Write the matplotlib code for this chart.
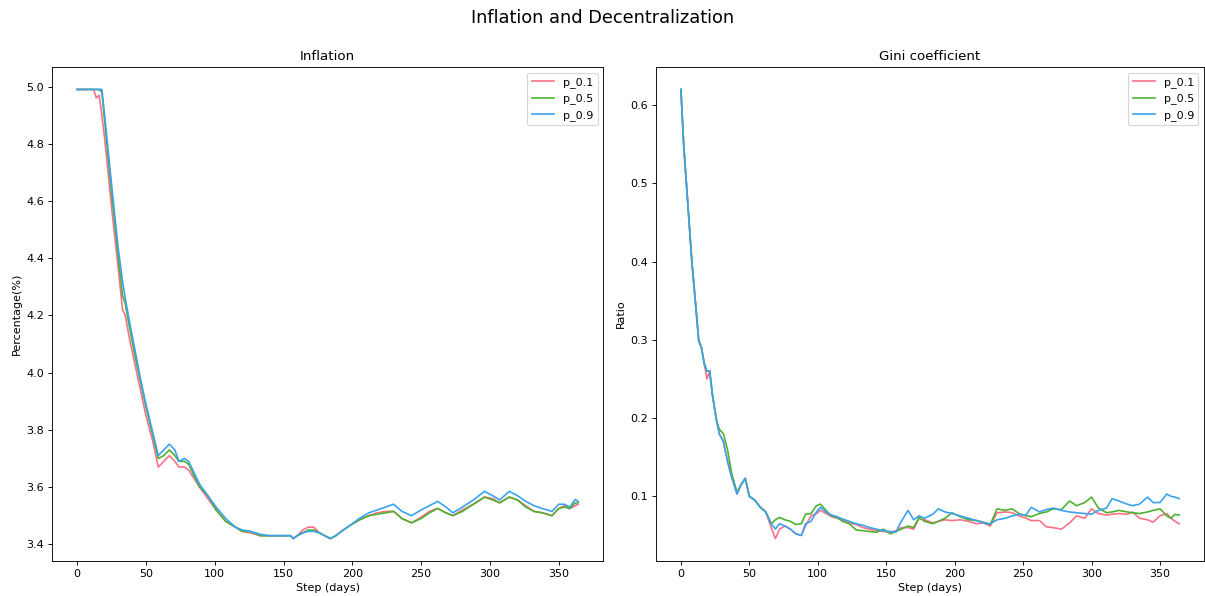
import matplotlib
matplotlib.use("Agg")
import matplotlib.pyplot as plt
import seaborn as sns

# --- data ---
labels = ["p_0.1", "p_0.5", "p_0.9"]

days_inf = [0, 12, 14, 16, 18, 20, 25, 30, 33, 35, 38, 42, 46, 50, 55, 59, 63, 67,
            71, 74, 78, 81, 85, 89, 95, 101, 108, 115, 120, 126, 133, 140, 148, 155,
            157, 160, 164, 168, 172, 176, 180, 184, 188, 192, 198, 205, 212, 218, 224,
            230, 236, 243, 250, 256, 262, 268, 273, 280, 288, 296, 302, 307, 314, 320,
            326, 332, 338, 345, 350, 354, 358, 362, 364]

inf_p01 = [4.99, 4.99, 4.96, 4.97, 4.90, 4.82, 4.58, 4.36, 4.22, 4.20, 4.12, 4.03, 3.94,
           3.85, 3.76, 3.67, 3.69, 3.71, 3.69, 3.67, 3.67, 3.66, 3.63, 3.60, 3.56, 3.52,
           3.48, 3.46, 3.445, 3.44, 3.43, 3.43, 3.43, 3.43, 3.42, 3.43, 3.45, 3.46, 3.46,
           3.44, 3.43, 3.42, 3.43, 3.445, 3.465, 3.485, 3.50, 3.51, 3.515, 3.515, 3.49,
           3.475, 3.495, 3.515, 3.525, 3.51, 3.50, 3.52, 3.54, 3.565, 3.56, 3.545, 3.565,
           3.555, 3.535, 3.515, 3.51, 3.50, 3.525, 3.535, 3.525, 3.535, 3.54]
inf_p05 = [4.99, 4.99, 4.99, 4.99, 4.98, 4.88, 4.63, 4.40, 4.27, 4.24, 4.16, 4.06, 3.97,
           3.88, 3.78, 3.70, 3.71, 3.73, 3.71, 3.69, 3.69, 3.68, 3.64, 3.60, 3.57, 3.52,
           3.48, 3.46, 3.445, 3.445, 3.43, 3.43, 3.43, 3.43, 3.42, 3.43, 3.44, 3.45, 3.45,
           3.44, 3.43, 3.42, 3.43, 3.445, 3.465, 3.485, 3.50, 3.505, 3.51, 3.515, 3.49,
           3.475, 3.49, 3.51, 3.525, 3.51, 3.50, 3.515, 3.54, 3.565, 3.555, 3.545, 3.565,
           3.555, 3.53, 3.515, 3.51, 3.50, 3.525, 3.53, 3.525, 3.545, 3.545]
inf_p09 = [4.99, 4.99, 4.99, 4.99, 4.99, 4.90, 4.66, 4.43, 4.32, 4.26, 4.18, 4.08, 3.98,
           3.89, 3.79, 3.71, 3.73, 3.75, 3.73, 3.69, 3.70, 3.69, 3.65, 3.61, 3.57, 3.53,
           3.49, 3.46, 3.45, 3.445, 3.435, 3.43, 3.43, 3.43, 3.42, 3.43, 3.44, 3.445, 3.445,
           3.44, 3.43, 3.42, 3.43, 3.445, 3.465, 3.49, 3.51, 3.52, 3.53, 3.54, 3.515,
           3.50, 3.52, 3.535, 3.55, 3.53, 3.51, 3.53, 3.555, 3.585, 3.57, 3.555, 3.585,
           3.57, 3.55, 3.535, 3.525, 3.515, 3.54, 3.54, 3.53, 3.557, 3.55]

days_gini = [0, 2, 4, 6, 8, 10, 13, 15, 17, 19, 21, 23, 26, 28, 31, 34, 37, 41, 44, 47,
             50, 54, 58, 62, 66, 69, 72, 76, 80, 84, 88, 91, 95, 99, 102, 106, 110, 114,
             118, 123, 128, 133, 138, 143, 148, 153, 157, 161, 166, 170, 174, 178, 184,
             188, 193, 198, 204, 210, 216, 221, 226, 231, 237, 242, 247, 252, 256, 262,
             267, 272, 278, 284, 289, 295, 300, 305, 311, 315, 320, 326, 330, 335, 341,
             345, 350, 355, 358, 361, 364]

gini_p01 = [0.62, 0.55, 0.50, 0.45, 0.40, 0.36, 0.298, 0.29, 0.27, 0.25, 0.26, 0.23, 0.197,
            0.18, 0.17, 0.145, 0.125, 0.103, 0.115, 0.123, 0.10, 0.095, 0.086, 0.08, 0.06,
            0.046, 0.058, 0.062, 0.058, 0.052, 0.05, 0.062, 0.075, 0.078, 0.082, 0.078,
            0.074, 0.072, 0.07, 0.066, 0.064, 0.06, 0.058, 0.056, 0.055, 0.054, 0.056,
            0.06, 0.06, 0.058, 0.072, 0.07, 0.066, 0.068, 0.07, 0.069, 0.07, 0.068, 0.065,
            0.066, 0.062, 0.079, 0.08, 0.079, 0.075, 0.072, 0.069, 0.069, 0.061, 0.06,
            0.058, 0.066, 0.075, 0.072, 0.084, 0.078, 0.076, 0.077, 0.078, 0.077, 0.08,
            0.072, 0.07, 0.067, 0.075, 0.078, 0.072, 0.068, 0.065]
gini_p05 = [0.62, 0.55, 0.50, 0.45, 0.40, 0.36, 0.30, 0.29, 0.27, 0.26, 0.26, 0.23, 0.197,
            0.186, 0.18, 0.16, 0.13, 0.105, 0.115, 0.123, 0.10, 0.095, 0.086, 0.08, 0.065,
            0.07, 0.073, 0.07, 0.068, 0.064, 0.065, 0.077, 0.078, 0.088, 0.09, 0.082,
            0.075, 0.073, 0.068, 0.065, 0.057, 0.056, 0.055, 0.054, 0.058, 0.052, 0.055,
            0.058, 0.062, 0.06, 0.073, 0.068, 0.065, 0.068, 0.072, 0.079, 0.074, 0.07,
            0.069, 0.067, 0.064, 0.084, 0.082, 0.084, 0.078, 0.075, 0.074, 0.078, 0.08,
            0.084, 0.083, 0.094, 0.088, 0.092, 0.099, 0.085, 0.079, 0.08, 0.082, 0.08,
            0.079, 0.078, 0.08, 0.082, 0.084, 0.075, 0.072, 0.077, 0.076]
gini_p09 = [0.62, 0.55, 0.50, 0.45, 0.40, 0.36, 0.30, 0.29, 0.27, 0.26, 0.26, 0.23, 0.197,
            0.18, 0.17, 0.145, 0.125, 0.103, 0.115, 0.123, 0.10, 0.095, 0.086, 0.08, 0.065,
            0.058, 0.065, 0.062, 0.058, 0.052, 0.05, 0.065, 0.068, 0.08, 0.086, 0.08,
            0.076, 0.074, 0.071, 0.068, 0.065, 0.063, 0.06, 0.058, 0.056, 0.055, 0.054,
            0.068, 0.082, 0.07, 0.075, 0.072, 0.077, 0.084, 0.08, 0.078, 0.075, 0.072,
            0.069, 0.066, 0.065, 0.07, 0.072, 0.075, 0.077, 0.076, 0.086, 0.08, 0.083,
            0.085, 0.082, 0.08, 0.079, 0.078, 0.077, 0.082, 0.085, 0.097, 0.094, 0.09,
            0.088, 0.09, 0.099, 0.092, 0.092, 0.103, 0.1, 0.099, 0.097]

colors = sns.color_palette("husl", 3)

# the reference looks like a figure drawn at a lower dpi
fig = plt.figure(figsize=(1205 / 80, 596 / 80), dpi=80)
ax1 = fig.add_axes([0.0432, 0.0587, 0.4573, 0.8289])
ax2 = fig.add_axes([0.5444, 0.0587, 0.4548, 0.8289])

for vals, lab, c in zip([inf_p01, inf_p05, inf_p09], labels, colors):
    ax1.plot(days_inf, vals, color=c, label=lab)
ax1.set_title("Inflation")
ax1.set_xlabel("Step (days)")
ax1.set_ylabel("Percentage(%)")
ax1.legend(loc="upper right")

for vals, lab, c in zip([gini_p01, gini_p05, gini_p09], labels, colors):
    ax2.plot(days_gini, vals, color=c, label=lab)
ax2.set_title("Gini coefficient")
ax2.set_xlabel("Step (days)")
ax2.set_ylabel("Ratio")
ax2.legend(loc="upper right")

fig.suptitle("Inflation and Decentralization", fontsize=16, y=0.985)

fig.savefig("out.png", dpi=80)
